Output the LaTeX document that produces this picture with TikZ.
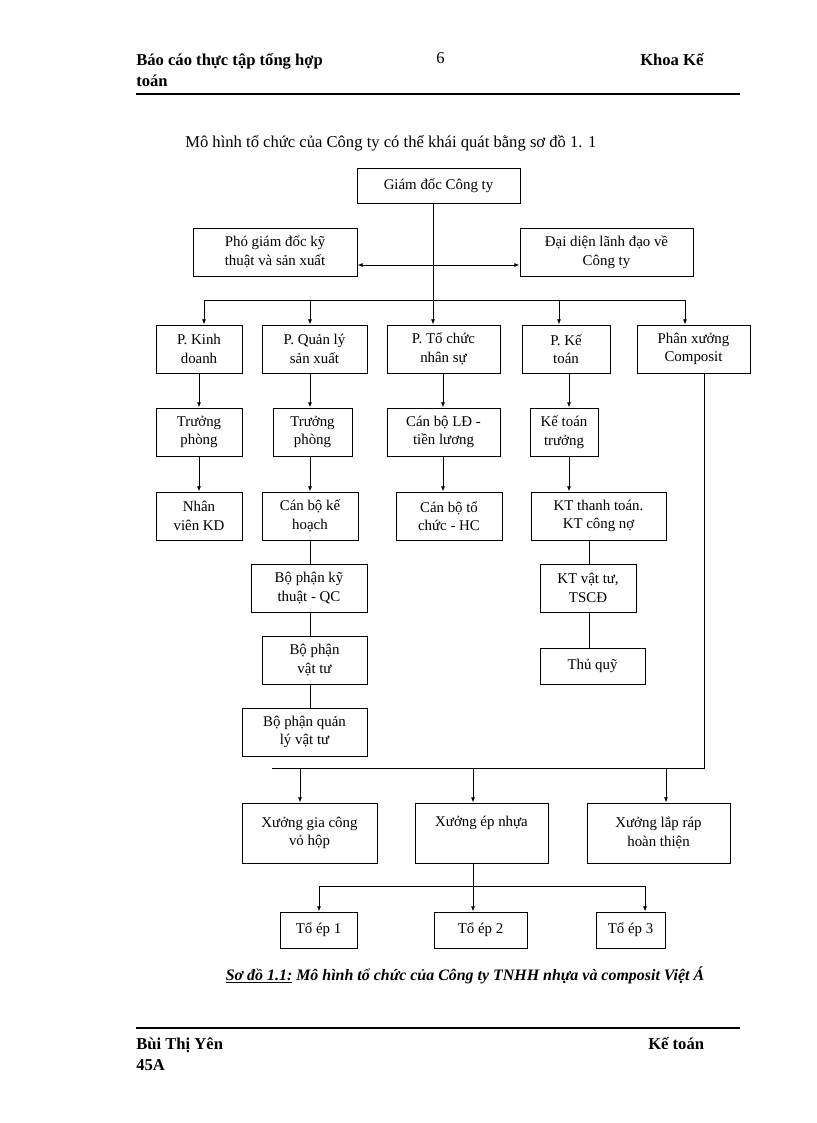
\documentclass[tikz,border=0pt]{standalone}
\usepackage{fontspec}
\setmainfont{Liberation Serif}
\usetikzlibrary{arrows.meta}
\tikzset{>={Latex[length=4,width=3]}}
\tikzstyle{box}=[draw,line width=0.6,inner sep=0,align=center,font=\fontsize{11.2}{14}\selectfont]
\tikzstyle{link}=[line width=0.6]
\tikzstyle{head}=[anchor=base west,font=\fontsize{12.5}{15}\selectfont\bfseries,inner sep=0]
\newcommand{\bx}[6]{% name, x1, y1, x2, y2, text
  \node[box,minimum width=(#4-#2)*\pxu,minimum height=(#5-#3)*\pxu] (#1) at ({(#2+#4)/2},{(#3+#5)/2}) {#6};}
\begin{document}
\def\pxu{0.02646cm}
\begin{tikzpicture}[x=0.02646cm,y=-0.02646cm]
  \useasboundingbox (0,0) rectangle (816,1123);

  % HEADER & FOOTER
  \node[head] at (136,66) {Báo cáo thực tập tổng hợp};
  \node[head] at (136,87) {toán};
  \node[head,font=\fontsize{12.5}{15}\selectfont] at (436,64) {6};
  \node[head] at (640,66) {Khoa Kế};
  \draw[line width=1.2] (136,94) -- (740,94);
  \node[head,font=\fontsize{12.5}{15}\selectfont] at (185,148) {Mô hình tổ chức của Công ty có thể khái quát bằng sơ đồ 1. 1};
  \node[font=\fontsize{12}{14}\selectfont\bfseries\itshape,anchor=base] at (465,980)
    {\underline{Sơ đồ 1.1:} Mô hình tổ chức của Công ty TNHH nhựa và composit Việt Á};
  \draw[line width=1.2] (136,1028) -- (740,1028);
  \node[head] at (136,1049) {Bùi Thị Yên};
  \node[head] at (136,1070) {45A};
  \node[head] at (648,1049) {Kế toán};

  % BOXES
  \bx{gd}{357}{168}{520}{203}{Giám  đốc Công ty}
  \bx{pgd}{193}{228}{357}{276}{Phó giám  đốc kỹ\\thuật  và sản xuất}
  \bx{dd}{520}{228}{693}{276}{Đại diện lãnh  đạo về\\Công ty}
  \bx{kd}{156}{325}{242}{373}{P. Kinh\\doanh}
  \bx{ql}{262}{325}{367}{373}{P. Quản lý\\sản xuất}
  \bx{tc}{387}{325}{500}{373}{P. Tổ chức\\nhân  sự}
  \bx{kt}{522}{325}{610}{373}{P. Kế\\toán}
  \bx{px}{637}{325}{750}{373}{Phân  xưởng\\Composit}
  \bx{tp1}{156}{408}{242}{456}{Trưởng\\phòng}
  \bx{tp2}{273}{408}{352}{456}{Trưởng\\phòng}
  \bx{ld}{387}{408}{500}{456}{Cán bộ LĐ  -\\tiền lương}
  \bx{ktt}{530}{408}{598}{456}{Kế toán\\trưởng}
  \bx{nv}{156}{492}{242}{540}{Nhân\\viên  KD}
  \bx{kh}{262}{492}{358}{540}{Cán bộ kế\\hoạch}
  \bx{hc}{396}{492}{502}{540}{Cán bộ tổ\\chức  - HC}
  \bx{tt}{531}{492}{666}{540}{KT thanh  toán.\\KT công nợ}
  \bx{qc}{251}{564}{367}{612}{Bộ phận kỹ\\thuật  - QC}
  \bx{vt}{540}{564}{636}{612}{KT vật tư,\\TSCĐ}
  \bx{bvt}{262}{636}{367}{684}{Bộ phận\\vật tư}
  \bx{tq}{540}{648}{645}{684}{Thủ  quỹ}
  \bx{qvt}{242}{708}{367}{756}{Bộ phận quản\\lý  vật tư}
  \bx{gc}{242}{803}{377}{863}{Xưởng gia công\\vỏ hộp}
  \bx{ep}{415}{803}{548}{863}{Xưởng ép nhựa\\\strut}
  \bx{lr}{587}{803}{730}{863}{Xưởng lắp ráp\\hoàn thiện}
  \bx{t1}{280}{912}{357}{948}{Tổ ép 1}
  \bx{t2}{434}{912}{527}{948}{Tổ ép 2}
  \bx{t3}{596}{912}{665}{948}{Tổ ép 3}

  % CONNECTORS
  \coordinate (bus) at (433,300);
  \draw[link] (gd.south -| bus) -- (bus);
  \draw[link,<->] (pgd.east |- 0,265) -- (dd.west |- 0,265);
  \draw[link] (204,300) -- (685,300);
  \foreach \n/\x in {kd/204,ql/310,tc/433,kt/559,px/685}
    \draw[link,->] (\x,300) -- (\n.north -| \x,0);
  \foreach \a/\b/\x in {kd/tp1/199,tp1/nv/199,ql/tp2/310,tp2/kh/310,tc/ld/443,ld/hc/443,kt/ktt/569,ktt/tt/569}
    \draw[link,->] (\a.south -| \x,0) -- (\b.north -| \x,0);
  \foreach \a/\b/\x in {kh/qc/310,qc/bvt/310,bvt/qvt/310,tt/vt/589,vt/tq/589}
    \draw[link] (\a.south -| \x,0) -- (\b.north -| \x,0);
  \draw[link] (px.south -| 704,0) |- (272,768);
  \foreach \n/\x in {gc/300,ep/473,lr/666}
    \draw[link,->] (\x,768) -- (\n.north -| \x,0);
  \draw[link] (ep.south -| 473,0) -- (473,886);
  \draw[link] (319,886) -- (645,886);
  \foreach \n/\x in {t1/319,t2/473,t3/645}
    \draw[link,->] (\x,886) -- (\n.north -| \x,0);
\end{tikzpicture}
\end{document}
